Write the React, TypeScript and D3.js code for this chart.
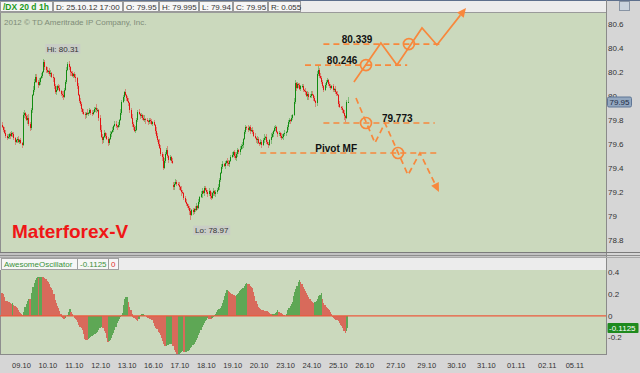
import React from "react";
import * as d3 from "d3";

// hourly closes, /DX 1h
const closes = [
  79.74, 79.72, 79.69, 79.67, 79.65, 79.66, 79.68, 79.67, 79.69, 79.68,
  79.65, 79.62, 79.63, 79.64, 79.62, 79.63, 79.61, 79.59, 79.84, 79.86,
  79.83, 79.8, 79.82, 79.77, 79.73, 79.88, 80.01, 80.05, 80.12, 80.16,
  80.12, 80.09, 80.12, 80.15, 80.17, 80.2, 80.28, 80.24, 80.22, 80.2,
  80.21, 80.18, 80.19, 80.16, 80.15, 80.08, 80.03, 80.05, 80.08, 80.07,
  80.04, 80.02, 80.01, 79.99, 80.05, 80.12, 80.22, 80.27, 80.24, 80.2,
  80.19, 80.17, 80.18, 80.16, 80.15, 80.08, 80.01, 79.96, 79.93, 79.89,
  79.87, 79.85, 79.84, 79.86, 79.85, 79.86, 79.88, 79.86, 79.85, 79.87,
  79.89, 79.9, 79.88, 79.88, 79.82, 79.72, 79.66, 79.63, 79.66, 79.69,
  79.67, 79.64, 79.61, 79.64, 79.68, 79.7, 79.72, 79.75, 79.77, 79.75,
  79.74, 79.76, 79.8, 79.86, 79.95, 79.99, 80.03, 80.01, 79.98, 79.96,
  79.94, 79.88, 79.82, 79.77, 79.74, 79.71, 79.72, 79.8, 79.87, 79.85,
  79.83, 79.84, 79.82, 79.8, 79.81, 79.8, 79.79, 79.78, 79.8, 79.79,
  79.77, 79.78, 79.76, 79.71, 79.67, 79.63, 79.6, 79.57, 79.52, 79.49,
  79.4, 79.46, 79.52, 79.55, 79.5, 79.47, 79.49, 79.46, 79.44, 79.24,
  79.27, 79.28, 79.27, 79.26, 79.24, 79.22, 79.2, 79.19, 79.15, 79.12,
  79.1, 79.08, 79.07, 79.04, 79.01, 79.05, 79.03, 79.06, 79.05, 79.08,
  79.07, 79.12, 79.16, 79.18, 79.21, 79.19, 79.23, 79.22, 79.2, 79.18,
  79.21, 79.17, 79.15, 79.19, 79.21, 79.18, 79.2, 79.22, 79.24, 79.3,
  79.36, 79.41, 79.43, 79.42, 79.44, 79.46, 79.44, 79.43, 79.46, 79.49,
  79.51, 79.53, 79.5, 79.48, 79.52, 79.55, 79.53, 79.56, 79.58, 79.59,
  79.64, 79.7, 79.74, 79.73, 79.72, 79.74, 79.71, 79.72, 79.7, 79.67,
  79.65, 79.63, 79.64, 79.61, 79.6, 79.62, 79.59, 79.63, 79.65, 79.66,
  79.62, 79.6, 79.59, 79.63, 79.66, 79.68, 79.71, 79.73, 79.74, 79.7,
  79.68, 79.69, 79.67, 79.65, 79.66, 79.68, 79.69, 79.7, 79.74, 79.78,
  79.8, 79.79, 79.82, 79.84, 79.95, 80.11, 80.07, 80.1, 80.09, 80.06,
  80.08, 80.08, 80.05, 80.04, 80.03, 80.0, 80.02, 79.99, 80.0, 80.02,
  80.01, 79.98, 79.96, 79.94, 80.18, 80.22, 80.17, 80.15, 80.12, 80.08,
  80.05, 80.09, 80.12, 80.13, 80.1, 80.08, 80.07, 80.08, 80.05, 80.06,
  80.03, 80.02, 80.01, 79.93, 79.91, 79.9, 79.88, 79.86, 79.83, 79.82,
  79.95, 79.95,
];
const firstOpen = 79.76;
// bars that open away from the previous close (session gap)
const sessionOpens: [number, number][] = [[149, 79.26]];

// wick lengths in 0.01
const wickUp = [
  2, 1, 2, 3, 1, 2, 1, 2, 2, 1, 2, 1, 1, 2, 3, 1, 2, 1, 3, 2,
  1, 2, 2, 3, 1, 2, 1, 3, 2, 2, 2, 1, 3, 1, 2, 1, 3, 2, 1, 2,
  1, 2, 3, 1, 2, 1, 2, 3, 1, 2, 2, 1, 2, 3, 2, 1, 2, 1, 2, 1,
  1, 2, 1, 2, 2, 1, 3, 1, 2, 2, 1, 2, 2, 1, 3, 1, 2, 1, 2, 1,
  2, 1, 3, 2, 1, 2, 4, 2, 1, 3, 1, 2, 2, 1, 3, 1, 2, 1, 2, 2,
  1, 2, 1, 3, 2, 2, 1, 3, 1, 2, 2, 1, 2, 3, 1, 2, 3, 2, 1, 2,
  1, 2, 1, 2, 3, 1, 2, 1, 2, 2, 2, 1, 2, 1, 3, 2, 1, 4, 2, 1,
  3, 2, 1, 2, 3, 1, 2, 1, 2, 2, 1, 3, 2, 1, 2, 1, 3, 2, 1, 2,
  2, 1, 2, 1, 3, 1, 2, 1, 2, 3, 1, 2, 1, 3, 2, 1, 2, 2, 1, 2,
  2, 1, 3, 1, 2, 1, 2, 1, 3, 2, 1, 2, 3, 1, 2, 1, 2, 3, 1, 2,
  2, 1, 2, 3, 1, 2, 1, 2, 2, 3, 1, 2, 2, 1, 3, 1, 2, 1, 2, 2,
  2, 1, 3, 2, 1, 2, 1, 2, 3, 1, 2, 1, 2, 1, 3, 2, 1, 2, 2, 1,
  1, 2, 1, 2, 2, 1, 3, 1, 2, 2, 2, 1, 2, 1, 3, 2, 1, 2, 1, 2,
  1, 2, 2, 1, 3, 1, 2, 1, 2, 2, 2, 1, 2, 1, 3, 3, 1, 2, 2, 1,
  1, 2, 1, 2, 1, 2, 2, 1, 2, 1, 2, 1, 2, 1, 3, 1, 2, 1, 2, 1,
  2, 4.5,
];
const wickDown = [
  1, 2, 1, 2, 2, 1, 2, 3, 1, 2, 2, 3, 1, 2, 1, 2, 1, 2, 1, 2,
  2, 1, 3, 2, 2, 1, 2, 1, 2, 1, 1, 2, 1, 3, 1, 2, 1, 2, 3, 1,
  2, 1, 2, 1, 3, 2, 1, 2, 1, 2, 1, 2, 3, 2, 1, 1, 2, 1, 2, 3,
  2, 1, 2, 1, 3, 2, 1, 2, 1, 2, 2, 1, 3, 2, 1, 2, 1, 2, 2, 1,
  1, 2, 2, 1, 3, 2, 1, 3, 2, 1, 2, 1, 3, 2, 1, 2, 1, 2, 1, 2,
  2, 1, 2, 1, 2, 1, 3, 1, 2, 1, 2, 2, 1, 3, 2, 1, 2, 1, 2, 1,
  2, 1, 2, 1, 2, 3, 1, 2, 1, 2, 1, 2, 1, 3, 2, 1, 2, 1, 2, 3,
  2, 1, 2, 1, 2, 3, 1, 2, 1, 2, 2, 1, 2, 1, 2, 1, 3, 1, 2, 1,
  2, 1, 2, 3, 4, 1, 2, 1, 2, 1, 2, 1, 2, 1, 3, 1, 2, 1, 2, 2,
  1, 3, 2, 1, 2, 1, 2, 2, 1, 2, 2, 1, 2, 1, 3, 1, 2, 1, 2, 1,
  1, 2, 2, 1, 2, 3, 1, 2, 1, 2, 2, 1, 2, 1, 2, 1, 3, 1, 2, 1,
  1, 2, 3, 1, 2, 1, 2, 1, 2, 2, 2, 1, 2, 1, 3, 1, 2, 1, 2, 1,
  2, 1, 2, 2, 1, 3, 1, 2, 1, 2, 1, 2, 1, 2, 1, 2, 3, 1, 2, 1,
  2, 1, 2, 1, 2, 1, 3, 2, 1, 2, 1, 2, 1, 3, 2, 1, 2, 1, 2, 1,
  2, 1, 2, 1, 2, 1, 2, 1, 2, 2, 1, 2, 1, 2, 1, 2, 2, 1, 3, 4,
  1, 1,
];

// Awesome Oscillator, one value per bar
const ao = [
  0.21, 0.2, 0.17, 0.14, 0.135, 0.13, 0.125, 0.12, 0.112, 0.116,
  0.1, 0.09, 0.08, 0.07, 0.05, 0.04, 0.025, 0.015, 0.01, 0.04,
  0.08, 0.11, 0.14, 0.16, 0.155, 0.15, 0.21, 0.27, 0.3, 0.33,
  0.35, 0.355, 0.345, 0.36, 0.362, 0.36, 0.355, 0.35, 0.34, 0.325,
  0.31, 0.29, 0.27, 0.255, 0.24, 0.2, 0.15, 0.12, 0.095, 0.07,
  0.045, 0.02, -0.01, -0.02, -0.03, -0.02, 0.0, 0.01, 0.04, 0.06,
  0.04, 0.02, 0.0, -0.015, -0.03, -0.04, -0.06, -0.08, -0.1, -0.115,
  -0.13, -0.17, -0.21, -0.22, -0.225, -0.21, -0.2, -0.19, -0.185, -0.18,
  -0.17, -0.165, -0.155, -0.15, -0.13, -0.11, -0.1, -0.09, -0.11, -0.14,
  -0.16, -0.2, -0.24, -0.235, -0.22, -0.2, -0.18, -0.155, -0.13, -0.1,
  -0.07, -0.05, -0.03, -0.01, 0.01, 0.03, 0.1, 0.16, 0.17, 0.175,
  0.13, 0.08, 0.05, 0.02, -0.01, -0.02, -0.03, -0.04, -0.05, -0.025,
  0.0, 0.01, 0.015, 0.02, 0.01, 0.0, -0.01, -0.015, -0.02, -0.03,
  -0.035, -0.04, -0.065, -0.09, -0.11, -0.125, -0.145, -0.16, -0.18, -0.2,
  -0.23, -0.26, -0.28, -0.275, -0.27, -0.265, -0.26, -0.255, -0.25, -0.28,
  -0.31, -0.33, -0.35, -0.36, -0.35, -0.34, -0.33, -0.325, -0.33, -0.335,
  -0.33, -0.325, -0.32, -0.31, -0.3, -0.285, -0.27, -0.255, -0.24, -0.22,
  -0.2, -0.18, -0.155, -0.13, -0.1, -0.08, -0.065, -0.05, -0.035, -0.02,
  -0.025, -0.03, -0.032, -0.02, -0.01, 0.005, 0.02, 0.04, 0.05, 0.06,
  0.07, 0.095, 0.12, 0.15, 0.18, 0.21, 0.24, 0.23, 0.22, 0.21,
  0.2, 0.195, 0.19, 0.188, 0.195, 0.2, 0.21, 0.225, 0.24, 0.25,
  0.26, 0.275, 0.29, 0.3, 0.295, 0.29, 0.28, 0.27, 0.26, 0.22,
  0.18, 0.14, 0.11, 0.08, 0.07, 0.06, 0.055, 0.05, 0.048, 0.046,
  0.044, 0.042, 0.04, 0.03, 0.02, 0.01, 0.015, 0.02, 0.025, 0.04,
  0.05, 0.04, 0.03, 0.025, 0.02, 0.01, 0.005, 0.0, 0.02, 0.05,
  0.07, 0.09, 0.11, 0.13, 0.18, 0.22, 0.25, 0.28, 0.31, 0.33,
  0.31, 0.29, 0.27, 0.25, 0.23, 0.21, 0.19, 0.17, 0.155, 0.14,
  0.13, 0.12, 0.125, 0.13, 0.14, 0.16, 0.18, 0.195, 0.21, 0.16,
  0.12, 0.1, 0.085, 0.07, 0.06, 0.05, 0.04, 0.015, -0.01, -0.02,
  -0.025, -0.035, -0.04, -0.05, -0.065, -0.08, -0.095, -0.11, -0.14, -0.16,
  -0.135, -0.1125,
];

const dayLabels = [
  "09.10", "10.10", "11.10", "12.10", "13.10", "16.10", "17.10", "18.10", "19.10", "20.10",
  "23.10", "24.10", "25.10", "26.10", "27.10", "29.10", "30.10", "31.10", "01.11", "02.11", "05.11",
];
const dayBars = [17, 40, 63, 86, 109, 132, 155, 178, 201, 224, 247, 270, 293, 316, 343, 370, 396, 422, 448, 475, 499];

const priceTicks = [78.8, 79, 79.2, 79.4, 79.6, 79.8, 80, 80.2, 80.4, 80.6];
const aoTicks = [-0.2, 0, 0.2, 0.4];

const header = [
  { text: "/DX 20 d 1h", w: 52, color: "#1b9a1b", bold: true },
  { text: "D: 25.10.12 17:00", w: 69 },
  { text: "O: 79.95", w: 35 },
  { text: "H: 79.995", w: 39 },
  { text: "L: 79.94", w: 33 },
  { text: "C: 79.95", w: 34 },
  { text: "R: 0.055", w: 32 },
];

// hand drawn levels (bar, price)
const levels = [
  { label: "80.339", price: 80.433, from: 280, to: 381, labelBar: 296, labelPrice: 80.442 },
  { label: "80.246", price: 80.258, from: 264, to: 353, labelBar: 283, labelPrice: 80.267 },
  { label: "79.773", price: 79.775, from: 280, to: 377, labelBar: 331, labelPrice: 79.783 },
  { label: "Pivot MF", price: 79.525, from: 225, to: 379, labelBar: 273, labelPrice: 79.533 },
];
const bullPath: [number, number][] = [
  [306.6, 80.117], [330.1, 80.442], [344.1, 80.258], [365.9, 80.567], [378.9, 80.425], [404.2, 80.733],
];
const bearPath: [number, number][] = [
  [308.4, 79.983], [324.9, 79.608], [333.6, 79.775], [353.7, 79.342], [364.1, 79.525], [380.7, 79.2],
];
const circles: [number, number][] = [
  [317.1, 80.258], [354.5, 80.433], [317.1, 79.775], [345, 79.525],
];

const font = "'Liberation Sans', Arial, sans-serif";
const sage = "#cbd9bd";
const orange = "#f8883c";
const upCol = "#118c11";
const dnCol = "#e41212";

const x = d3.scaleLinear().domain([0, 301]).range([2, 347.5]);
const step = x(1) - x(0);
const yP = d3.scaleLinear().domain([78.8, 80.6]).range([240, 24]);
const yA = d3.scaleLinear().domain([-0.2, 0.4]).range([337.6, 272.5]);

function arrow(pts: [number, number][]) {
  const a = pts[pts.length - 2], b = pts[pts.length - 1];
  const x1 = x(a[0]), y1 = yP(a[1]), x2 = x(b[0]), y2 = yP(b[1]);
  const ang = Math.atan2(y2 - y1, x2 - x1);
  const len = 9, half = 4.2;
  const bx = x2 - len * Math.cos(ang), by = y2 - len * Math.sin(ang);
  const s = Math.sin(ang), c = Math.cos(ang);
  return {
    head: `M${x2},${y2}L${bx + half * s},${by - half * c}L${bx - half * s},${by + half * c}Z`,
    base: [bx, by],
  };
}

export default function App() {
  const candles = closes.map((c, i) => {
    const so = sessionOpens.find((s) => s[0] === i);
    const o = so ? so[1] : i === 0 ? firstOpen : closes[i - 1];
    return {
      i, o, c,
      hi: Math.max(o, c) + wickUp[i] / 100,
      lo: Math.min(o, c) - wickDown[i] / 100,
    };
  });
  const hiIdx = d3.maxIndex(candles, (d) => d.hi);
  const loIdx = d3.minIndex(candles, (d) => d.lo);

  const pathLine = (pts: [number, number][], base: number[]) => {
    const p = d3.path();
    pts.slice(0, -1).forEach((d, k) => (k ? p.lineTo(x(d[0]), yP(d[1])) : p.moveTo(x(d[0]), yP(d[1]))));
    p.lineTo(base[0], base[1]);
    return p.toString();
  };
  const bull = arrow(bullPath);
  const bear = arrow(bearPath);

  let hx = 0;
  const headerBoxes = header.map((h) => {
    const b = { ...h, x: hx };
    hx += h.w + 1;
    return b;
  });

  const lastAo = ao[ao.length - 1];
  const lastClose = closes[closes.length - 1];

  return (
    <div style={{ position: "absolute", left: 0, top: 0 }}>
      <svg width={640} height={373} style={{ display: "block", fontFamily: font }}>
        <rect width={640} height={373} fill="#d6d6d6" />
        {/* top strip */}
        <rect x={0} y={0} width={606} height={12.5} fill="#ececec" />
        <line x1={0} x2={640} y1={0.5} y2={0.5} stroke="#5d6f8c" />
        {headerBoxes.map((h) => (
          <g key={h.text}>
            <rect x={h.x + 0.5} y={1.5} width={h.w} height={10} fill="#f6f6f6" stroke="#9a9a9a" />
            <text x={h.x + 3} y={9.6} fontSize={h.bold ? 8.5 : 8} fontWeight={h.bold ? "bold" : "normal"} fill={h.color || "#333"}>
              {h.text}
            </text>
          </g>
        ))}
        <rect x={619.5} y={1.5} width={10} height={9} fill="#c9d3de" stroke="#8894a4" />

        {/* price panel */}
        <rect x={0} y={13} width={606} height={239} fill={sage} />
        <line x1={0} x2={606} y1={12.5} y2={12.5} stroke="#9a9a9a" />
        <line x1={0.5} x2={0.5} y1={13} y2={252} stroke="#8e8e8e" />
        <line x1={606.5} x2={606.5} y1={0} y2={355} stroke="#8a8a8a" />
        <text x={4} y={25} fontSize={8} fill="#7f8c78">2012 © TD Ameritrade IP Company, Inc.</text>

        <g shapeRendering="crispEdges">
          {candles.map((d) => {
            const cx = Math.round(x(d.i));
            const col = d.c >= d.o ? upCol : dnCol;
            const top = yP(Math.max(d.o, d.c));
            const bot = yP(Math.min(d.o, d.c));
            return (
              <g key={d.i}>
                <rect x={cx} y={yP(d.hi)} width={1} height={yP(d.lo) - yP(d.hi)} fill={col} opacity={0.4} />
                <rect x={cx} y={top} width={1} height={Math.max(1, bot - top)} fill={col} />
              </g>
            );
          })}
        </g>

        {/* Hi / Lo labels */}
        <g fontSize={8} fill="#333">
          <rect x={x(hiIdx) + 2} y={44} width={35} height={9.5} fill="#c9cdc6" />
          <text x={x(hiIdx) + 19.5} y={51.5} textAnchor="middle">{`Hi: ${d3.format(".2f")(candles[hiIdx].hi)}`}</text>
          <rect x={x(loIdx) + 3} y={yP(candles[loIdx].lo) + 6} width={37} height={9.5} fill="#c9cdc6" />
          <text x={x(loIdx) + 21.5} y={yP(candles[loIdx].lo) + 13.5} textAnchor="middle">{`Lo: ${d3.format(".2f")(candles[loIdx].lo)}`}</text>
        </g>

        <text x={12} y={238} fontSize={19} fontWeight="bold" fill="#f01616">Materforex-V</text>

        {/* drawn scenario */}
        <g stroke={orange} fill="none" strokeWidth={1.7}>
          {levels.map((l) => (
            <line key={l.label} x1={x(l.from)} x2={x(l.to)} y1={yP(l.price)} y2={yP(l.price)} strokeDasharray="6 4" />
          ))}
          <path d={pathLine(bullPath, bull.base)} />
          <path d={pathLine(bearPath, bear.base)} strokeDasharray="6 4" />
          {circles.map((c, k) => (
            <circle key={k} cx={x(c[0])} cy={yP(c[1])} r={5.5} />
          ))}
        </g>
        <path d={bull.head} fill={orange} />
        <path d={bear.head} fill={orange} />
        <g fontSize={10} fontWeight="bold" fill="#111">
          {levels.map((l) => (
            <text key={l.label} x={x(l.labelBar)} y={yP(l.labelPrice)}>{l.label}</text>
          ))}
        </g>

        {/* price axis */}
        <g fontSize={8} fill="#333">
          {priceTicks.map((t) => (
            <text key={t} x={608} y={yP(t)} dy="0.35em">{String(+t.toFixed(1))}</text>
          ))}
        </g>
        <rect x={607.5} y={yP(lastClose) - 5} width={24} height={10} rx={1.5} fill="#93a7bf" stroke="#5f7696" />
        <text x={609.5} y={yP(lastClose) + 3} fontSize={8} fill="#1d2c44">{lastClose.toFixed(2)}</text>

        {/* separator */}
        <rect x={0} y={252} width={606} height={6} fill="#c2c2c2" />
        <line x1={0} x2={640} y1={252.5} y2={252.5} stroke="#7b7b7b" />
        <line x1={0} x2={640} y1={255.5} y2={255.5} stroke="#8d8d8d" />
        <line x1={0} x2={640} y1={257.5} y2={257.5} stroke="#a9a9a9" />

        {/* AO header */}
        <rect x={0} y={258} width={606} height={12} fill="#ececec" />
        <rect x={1.5} y={258.5} width={76} height={11} fill="#f6f6f6" stroke="#a0a0a0" />
        <text x={4} y={266.8} fontSize={8} fill="#3a923a">AwesomeOscillator</text>
        <rect x={77.5} y={258.5} width={31} height={11} fill="#f6f6f6" stroke="#a0a0a0" />
        <text x={80} y={266.8} fontSize={8} fill="#3a923a">{String(lastAo)}</text>
        <rect x={108.5} y={258.5} width={10} height={11} fill="#f6f6f6" stroke="#a0a0a0" />
        <text x={111} y={266.8} fontSize={8} fill="#e03030">0</text>

        {/* AO panel */}
        <rect x={0} y={270} width={606} height={84.5} fill={sage} />
        <line x1={0.5} x2={0.5} y1={270} y2={355} stroke="#8e8e8e" />
        <g shapeRendering="crispEdges">
          {ao.map((v, i) => {
            const col = i > 0 && v >= ao[i - 1] ? "#5ea755" : "#d86a5b";
            const y0 = yA(0), y1 = yA(v);
            return (
              <rect key={i} x={x(i) - step / 2} y={Math.min(y0, y1)} width={step + 0.4} height={Math.abs(y1 - y0)} fill={col} />
            );
          })}
        </g>
        <line x1={0} x2={606} y1={yA(0)} y2={yA(0)} stroke="#ec5a3e" strokeWidth={1.3} />
        <line x1={0} x2={606} y1={354.5} y2={354.5} stroke="#8a8a8a" />
        <g fontSize={8} fill="#333">
          {aoTicks.map((t) => (
            <text key={t} x={608} y={yA(t)} dy="0.35em">{String(t)}</text>
          ))}
        </g>
        <rect x={607.5} y={yA(lastAo) - 5} width={31} height={10} rx={1} fill="#1e8a1e" />
        <text x={609} y={yA(lastAo) + 3} fontSize={8} fill="#fff">{String(lastAo)}</text>

        {/* date axis */}
        <g fontSize={7.5} fill="#333" textAnchor="middle">
          {dayLabels.map((d, k) => (
            <text key={d} x={x(dayBars[k])} y={368}>{d}</text>
          ))}
        </g>
      </svg>
    </div>
  );
}
